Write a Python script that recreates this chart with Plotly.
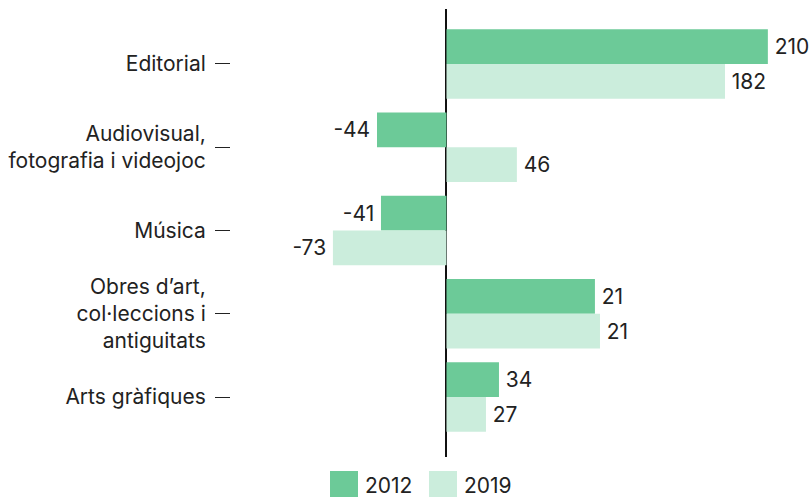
import plotly.graph_objects as go

categories = ["Editorial", "Audiovisual,<br>fotografia i videojoc", "Música",
              "Obres d’art,<br>col·leccions i<br>antiguitats", "Arts gràfiques"]
series_names = ["2012", "2019"]
values_2012 = [210, -45.4, -42.8, 97, 34.3]
values_2019 = [182, 46, -74.2, 100.3, 25.8]
labels_2012 = ["210", "-44", "-41", "21", "34"]
labels_2019 = ["182", "46", "-73", "21", "27"]
colors = ["#6CCA98", "#CBEDDC"]

FONT = "Inter"
TXT = "#222222"
FS = 21
PAD = "\u2009"

def padded(labels, vals):
    return [(PAD + t) if v >= 0 else (t + PAD) for t, v in zip(labels, vals)]

fig = go.Figure()
for name, vals, labs, col in [(series_names[0], values_2012, labels_2012, colors[0]),
                              (series_names[1], values_2019, labels_2019, colors[1])]:
    fig.add_trace(go.Bar(
        y=list(range(len(categories))), x=vals, orientation="h", name=name,
        marker=dict(color=col, line=dict(width=0)),
        text=padded(labs, vals), textposition="outside", cliponaxis=False,
        textfont=dict(family=FONT, size=FS, color=TXT),
        showlegend=False, hoverinfo="skip",
    ))

L, R, T, B = 231, 812 - 800, 9, 497 - 457
PW, PH = 812 - L - R, 497 - T - B

fig.update_layout(
    width=812, height=497,
    margin=dict(l=L, r=R, t=T, b=B, autoexpand=False),
    paper_bgcolor="white", plot_bgcolor="white",
    barmode="group", bargap=0.165, bargroupgap=0,
    font=dict(family=FONT, size=FS, color=TXT),
    xaxis=dict(range=[-140.8, 231], showgrid=False, showticklabels=False,
               zeroline=True, zerolinecolor="#111111", zerolinewidth=1.5,
               showline=False, ticks="", automargin=False),
    yaxis=dict(range=[4.72, -0.66], tickmode="array",
               tickvals=list(range(len(categories))), ticktext=categories,
               ticks="outside", ticklen=15, tickwidth=1.4, tickcolor="#222222",
               showgrid=False, zeroline=False, showline=False,
               ticklabelstandoff=5, automargin=False,
               tickfont=dict(family=FONT, size=FS, color=TXT)),
)

# legend (manual, large swatches)
legend_items = [(330, colors[0], series_names[0]), (429, colors[1], series_names[1])]
for x0, col, name in legend_items:
    fig.add_shape(type="rect", xref="paper", yref="paper",
                  x0=(x0 - L) / PW, x1=(x0 + 28 - L) / PW,
                  y0=-(497 - 457) / PH, y1=-(471 - 457) / PH,
                  fillcolor=col, line=dict(width=0))
    fig.add_annotation(xref="paper", yref="paper",
                       x=(x0 + 33 - L) / PW, y=-(485 - 457) / PH,
                       xanchor="left", yanchor="middle", showarrow=False,
                       text=name, font=dict(family=FONT, size=FS, color=TXT))

fig.write_html("out.html", config={"displayModeBar": False},
               post_script="document.body.style.margin='0px';")
